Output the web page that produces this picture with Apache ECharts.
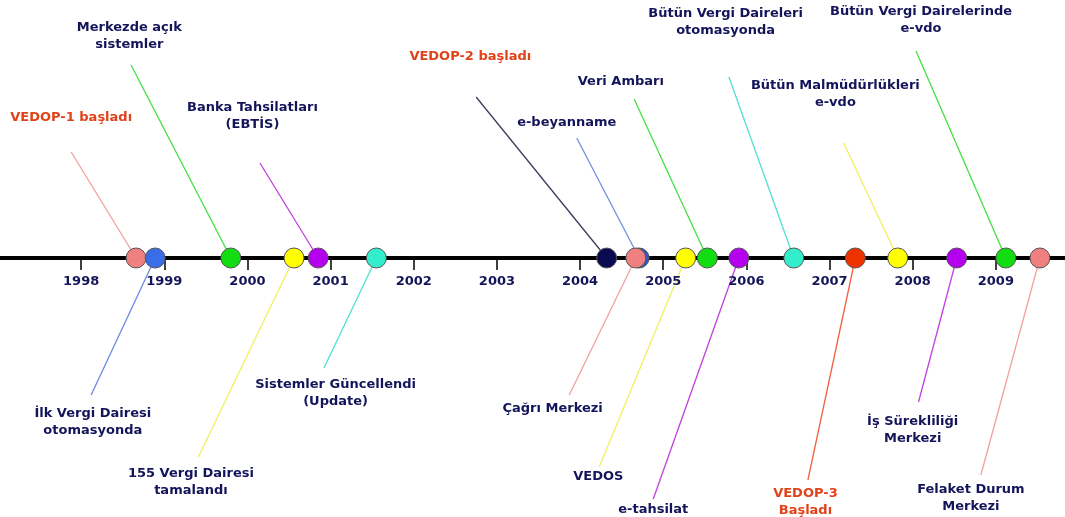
<!DOCTYPE html>
<html>
<head>
<meta charset="UTF-8">
<title>VEDOP zaman çizelgesi</title>
<style>
    html, body {
        margin: 0;
        padding: 0;
        background: #fff;
        overflow: hidden;
    }
    #chart {
        width: 1065px;
        height: 517px;
    }
</style>
<script src="https://cdn.jsdelivr.net/npm/echarts@6/dist/echarts.min.js"></script>
</head>
<body>
<div id="chart"></div>
<script>
    // year ticks shown under the line
    const years = [1998, 1999, 2000, 2001, 2002, 2003, 2004, 2005, 2006, 2007, 2008, 2009];

    // events, in drawing order (later circles sit on top)
    const eventNames = [
        'VEDOP-1 başladı',
        'İlk Vergi Dairesi\notomasyonda',
        'Merkezde açık\nsistemler',
        '155 Vergi Dairesi\ntamalandı',
        'Banka Tahsilatları\n(EBTİS)',
        'Sistemler Güncellendi\n(Update)',
        'VEDOP-2 başladı',
        'e-beyanname',
        'Çağrı Merkezi',
        'VEDOS',
        'Veri Ambarı',
        'e-tahsilat',
        'Bütün Vergi Daireleri\notomasyonda',
        'VEDOP-3\nBaşladı',
        'Bütün Malmüdürlükleri\ne-vdo',
        'İş Sürekliliği\nMerkezi',
        'Bütün Vergi Dairelerinde\ne-vdo',
        'Felaket Durum\nMerkezi'
    ];
    const eventYears = [1998.66, 1998.89, 1999.80, 2000.56, 2000.85, 2001.55, 2004.32, 2004.71, 2004.67,
        2005.27, 2005.53, 2005.91, 2006.57, 2007.31, 2007.82, 2008.53, 2009.12, 2009.53];

    // styles
    const dotColors = ['#f08080', '#3a6ee8', '#11dd11', '#ffff00', '#b400ee', '#33eecc', '#0a0a50', '#3355cc', '#f08080',
        '#ffff00', '#11dd11', '#b400ee', '#33eecc', '#ee3300', '#ffff00', '#b400ee', '#11dd11', '#f08080'];
    const leaderColors = ['#f4a0a0', '#6a8ae0', '#44e044', '#f0f060', '#c040e0', '#50e0d0', '#3c3c5c', '#7090e0', '#f4a0a0',
        '#f0f060', '#44e044', '#c040e0', '#50e0d0', '#f06040', '#f0f060', '#c040e0', '#44e044', '#f4a0a0'];
    const navy = '#14145a';
    const orange = '#e0421a';

    // layout: where each leader line stops and where its text sits [year, height above line]
    const leaderEnds = [[1997.88, 106], [1998.12, -137], [1998.60, 193], [1999.41, -199], [2000.15, 95], [2000.92, -110],
        [2002.75, 161], [2003.96, 120], [2003.87, -137], [2004.23, -209], [2004.65, 159], [2004.88, -241],
        [2005.79, 181], [2006.74, -222], [2007.17, 115], [2008.07, -144], [2008.04, 207], [2008.82, -217]];
    const labelSpots = [[1997.88, 140], [1998.14, -164], [1998.58, 222], [1999.32, -224], [2000.06, 142], [2001.06, -135],
        [2002.68, 201], [2003.84, 135], [2003.67, -151], [2004.22, -219], [2004.49, 176], [2004.88, -252],
        [2005.75, 236], [2006.71, -244], [2007.07, 164], [2008.00, -172], [2008.10, 238], [2008.70, -240]];
    const yearLabelLevel = -24;

    const chart = echarts.init(document.getElementById('chart'), null, {renderer: 'canvas'});

    const xBase = {
        type: 'value',
        min: 1997,
        max: 2010,
        interval: 1,
        splitLine: {show: false},
        axisLabel: {show: false}
    };

    const textFont = {
        fontFamily: 'DejaVu Sans',
        fontWeight: 'bold',
        fontSize: 13,
        lineHeight: 17,
        align: 'center',
        verticalAlign: 'middle',
        textBorderWidth: 0,
        opacity: 1
    };

    const option = {
        animation: false,
        backgroundColor: '#ffffff',
        // 1997 sits just off the left edge so only 1998..2009 ticks show
        grid: {left: -2, top: 0, width: 1081, height: 517, outerBoundsMode: 'none'},
        xAxis: [
            Object.assign({}, xBase, {
                position: 'bottom',
                axisLine: {onZero: true, lineStyle: {color: '#000', width: 4}},
                axisTick: {show: true, length: 12, lineStyle: {color: '#000', width: 1.5}}
            }),
            Object.assign({}, xBase, {
                position: 'top',
                axisLine: {onZero: true, show: false},
                axisTick: {show: true, length: 10, lineStyle: {color: '#000', width: 1.5}}
            })
        ],
        yAxis: {
            type: 'value',
            min: -259,
            max: 258,
            show: false
        },
        series: [
            {
                type: 'lines',
                coordinateSystem: 'cartesian2d',
                silent: true,
                z: 2,
                data: eventYears.map((y, i) => ({
                    coords: [[y, 0], leaderEnds[i]],
                    lineStyle: {color: leaderColors[i], width: 1.3, opacity: 1}
                }))
            },
            {
                type: 'scatter',
                symbol: 'circle',
                symbolSize: 20,
                z: 3,
                silent: true,
                data: eventYears.map((y, i) => ({
                    value: [y, 0],
                    itemStyle: {color: dotColors[i], borderColor: '#555', borderWidth: 1, opacity: 1}
                }))
            },
            {
                // event texts
                type: 'scatter',
                symbolSize: 1,
                z: 4,
                silent: true,
                itemStyle: {color: 'rgba(0,0,0,0)', opacity: 1},
                label: Object.assign({show: true, position: 'inside', formatter: p => p.name}, textFont),
                data: eventNames.map((n, i) => ({
                    name: n,
                    value: labelSpots[i],
                    label: {color: n.indexOf('VEDOP') === 0 ? orange : navy}
                }))
            },
            {
                // year labels under the ticks
                type: 'scatter',
                symbolSize: 1,
                z: 4,
                silent: true,
                itemStyle: {color: 'rgba(0,0,0,0)', opacity: 1},
                label: Object.assign({show: true, position: 'inside', color: navy, formatter: p => p.name}, textFont),
                data: years.map(y => ({name: String(y), value: [y, yearLabelLevel]}))
            }
        ]
    };

    chart.setOption(option);
</script>
</body>
</html>
